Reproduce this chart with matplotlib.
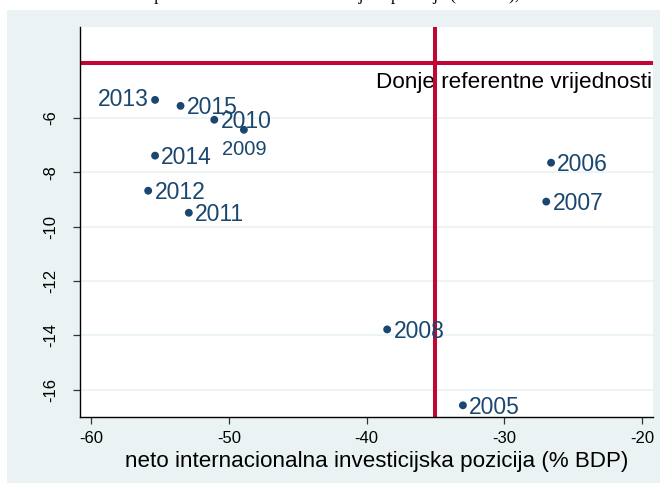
import matplotlib
matplotlib.use("Agg")
import matplotlib.pyplot as plt
from matplotlib.patches import Rectangle

plt.rcParams['font.family'] = ['Liberation Sans', 'DejaVu Sans']

# Data
years = ['2005', '2006', '2007', '2008', '2009', '2010', '2011', '2012', '2013', '2014', '2015']
niip = [-33.0, -26.6, -26.95, -38.5, -48.9, -51.05, -52.9, -55.85, -55.35, -55.35, -53.5]
ca = [-16.57, -7.65, -9.08, -13.78, -6.44, -6.07, -9.49, -8.68, -5.34, -7.39, -5.56]
label_pos = ['r', 'r', 'r', 'r', 'b', 'r', 'r', 'r', 'l', 'r', 'r']

x_ref = -35
y_ref = -4
xticks = [-60, -50, -40, -30, -20]
yticks = [-16, -14, -12, -10, -8, -6]
xlabel = 'neto internacionalna investicijska pozicija (% BDP)'
ref_text = 'Donje referentne vrijednosti'
title_text = 'Tekući račun platne bilance i neto investicijska pozicija (% BDP), 2005.–2015.'

W, H = 660, 483
fig = plt.figure(figsize=(W / 100, H / 100), dpi=100)
fig.patch.set_facecolor('white')
bg = '#EAF2F3'
fig.patches.append(Rectangle((7 / W, 0), 1, (H - 10) / H, transform=fig.transFigure,
                             facecolor=bg, edgecolor='none', zorder=-5))

# cropped title at the very top (only descenders visible)
fig.text(60 / W, 1.0, title_text, family='Liberation Serif', fontsize=12.5,
         va='baseline', ha='left', color='black', zorder=-4)

left, right, top, bottom = 80, 653, 27, 417
ax = fig.add_axes([left / W, (H - bottom) / H, (right - left) / W, (bottom - top) / H])
ax.set_zorder(2)
ax.set_facecolor('white')

ax.set_xlim(-60.8, -19.2)
ax.set_ylim(-17.0, -2.66)

navy = '#1A476F'
red = '#C10534'

ax.set_yticks(yticks)
ax.set_xticks(xticks)
ax.set_yticklabels([str(v) for v in yticks], rotation=90, va='center', fontsize=12)
ax.set_xticklabels([str(v) for v in xticks], fontsize=12)
ax.grid(axis='y', color=bg, lw=1.2, zorder=0)
ax.set_axisbelow(True)
ax.tick_params(axis='both', direction='out', length=5, width=0.9, color='#333333')
ax.tick_params(axis='x', pad=5)
ax.tick_params(axis='y', pad=11)
for s in ['top', 'right']:
    ax.spines[s].set_visible(False)
for s in ['left', 'bottom']:
    ax.spines[s].set_color('black')
    ax.spines[s].set_linewidth(1.0)

ax.axhline(y_ref, color=red, lw=2.9, zorder=2)
ax.axvline(x_ref, color=red, lw=2.9, zorder=2)

ax.scatter(niip, ca, s=32, color=navy, zorder=3, edgecolors='none')

for x, y, t, p in zip(niip, ca, years, label_pos):
    if p == 'r':
        ax.annotate(t, (x, y), xytext=(4.5, -1.5), textcoords='offset points', ha='left', va='center',
                    fontsize=16.5, color=navy, zorder=4)
    elif p == 'l':
        ax.annotate(t, (x, y), xytext=(-4.5, 0), textcoords='offset points', ha='right', va='center',
                    fontsize=16.5, color=navy, zorder=4)
    else:
        ax.annotate(t, (x, y), xytext=(0, -7), textcoords='offset points', ha='center', va='top',
                    fontsize=14.5, color=navy, zorder=4)

ax.text(0.999, y_ref - 0.3, ref_text, transform=ax.get_yaxis_transform(), ha='right', va='top',
        fontsize=16.2, color='black', zorder=1)

ax.set_xlabel(xlabel, fontsize=16.1, labelpad=2)
ax.xaxis.set_label_coords(0.5 + 10 / (right - left), -0.088)

fig.savefig('out.png', dpi=100, facecolor=fig.get_facecolor())
